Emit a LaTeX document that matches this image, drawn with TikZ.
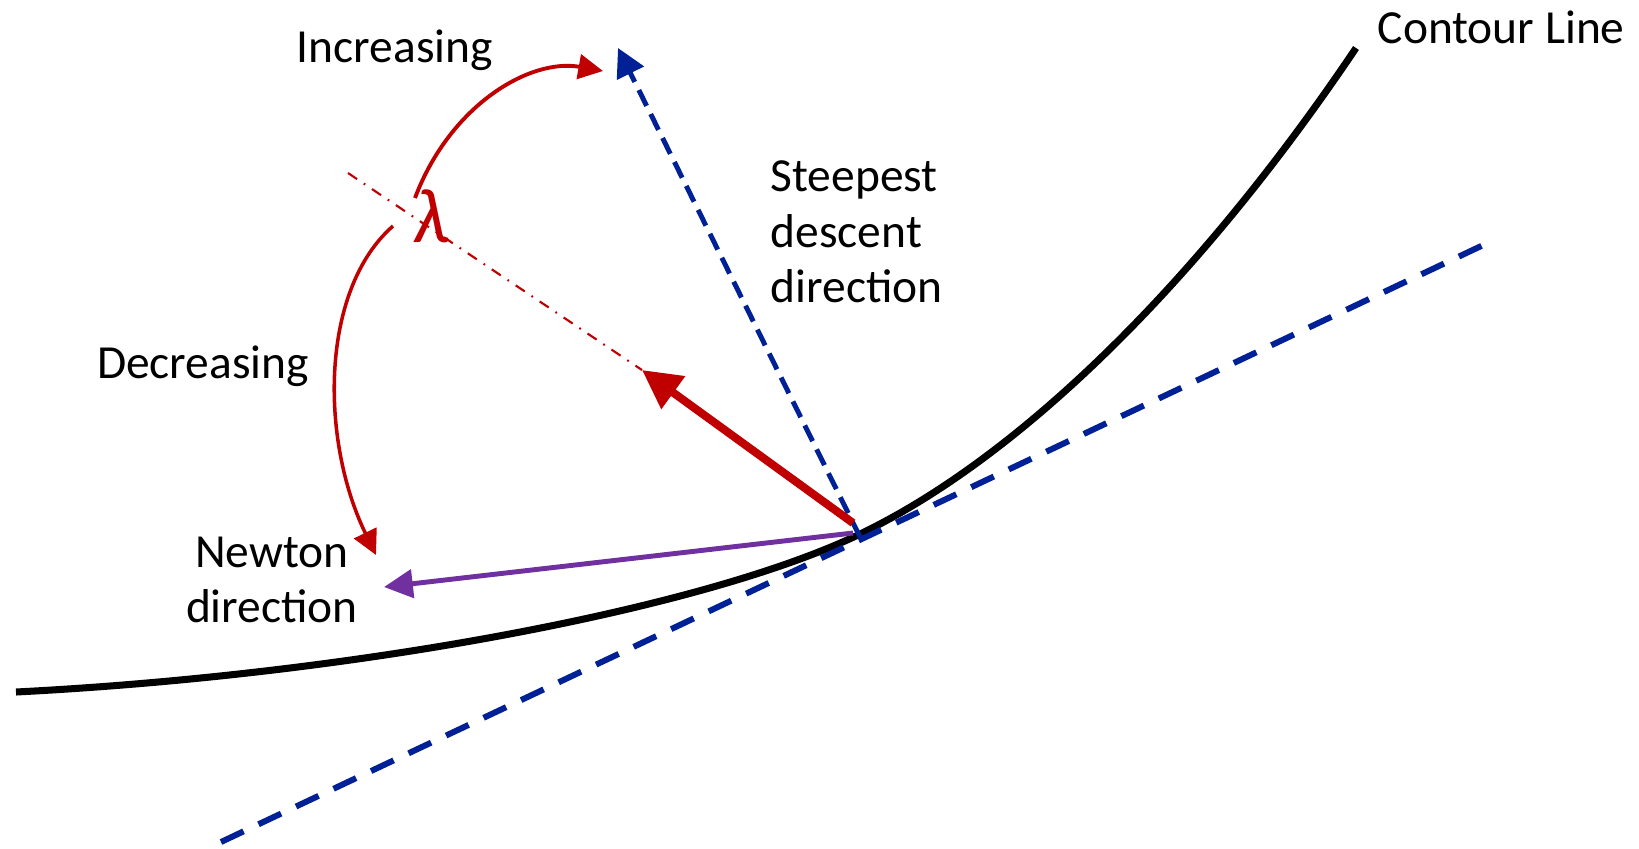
\documentclass[tikz,border=0pt]{standalone}
\usepackage{fontspec}
\setmainfont{Carlito}
\usetikzlibrary{arrows.meta}
\definecolor{darkred}{RGB}{192,0,0}
\definecolor{navy}{RGB}{0,32,150}
\definecolor{newtonviolet}{RGB}{112,48,160}

\begin{document}
\begin{tikzpicture}[x=0.01cm, y=-0.01cm,
		every node/.style={font=\fontsize{13.5}{15.8}\selectfont, inner sep=0pt},
		lab/.style={align=left},
		lamarc/.style={draw=darkred, line width=1.1pt, -{Triangle[length=7pt, width=7pt]}}]
	\useasboundingbox (0,0) rectangle (1639,848);
	% points of the figure
	\coordinate (c0) at (16,692);
	\coordinate (p) at (858,535);
	\coordinate (c1) at (1356,48);
	\coordinate (t0) at (221,842);
	\coordinate (t1) at (1496,239);
	\coordinate (sd0) at (860,537);
	\coordinate (sd1) at (618,48);
	\coordinate (r0) at (853,523);
	\coordinate (r1) at (642,370);
	\coordinate (ax) at (348,173);
	\coordinate (n0) at (853,533);
	\coordinate (n1) at (384,587);
	\coordinate (i0) at (415,198);
	\coordinate (i1) at (603,71);
	\coordinate (d0) at (393,226);
	\coordinate (d1) at (376,555);
	% labels
	\node[anchor=base west] (cl) at (1377,43) {Contour Line};
	\node[lab, anchor=west] (sd) at (770,232) {Steepest\\descent\\direction};
	\node[align=center] (nd) at (272,580) {Newton\\direction};
	\node[anchor=base] (dec) at (203,378) {Decreasing};
	\node[anchor=base] (inc) at (395,62) {Increasing};
	\node[text=darkred, font=\fontsize{22}{26}\selectfont\itshape] (lam) at (431,216) {λ};
	% contour and tangent
	\draw[line width=2pt] (c0) .. controls (350,675) and (700,610) .. (p) .. controls (1020,458) and (1200,280) .. (c1);
	\draw[navy, line width=1.7pt, dash pattern=on 7.1pt off 4.7pt] (t0) -- (t1);
	% directions
	\draw[navy, line width=1.4pt, dash pattern=on 5pt off 2.6pt, -{Triangle[length=8pt, width=8.3pt]}] (sd0) -- (sd1);
	\draw[darkred, line width=0.6pt, dash pattern=on 3.1pt off 2.3pt on 0.5pt off 2.3pt] (ax) -- (r1);
	\draw[darkred, line width=2.3pt, -{Triangle[length=11pt, width=11pt]}] (r0) -- (r1);
	\draw[newtonviolet, line width=1.4pt, -{Triangle[length=8.2pt, width=8pt]}] (n0) -- (n1);
	% lambda arcs
	\draw[lamarc] (i0) .. controls (450,105) and (530,58) .. (i1);
	\draw[lamarc, line width=1pt] (d0) .. controls (320,290) and (320,440) .. (d1);
\end{tikzpicture}
\end{document}
